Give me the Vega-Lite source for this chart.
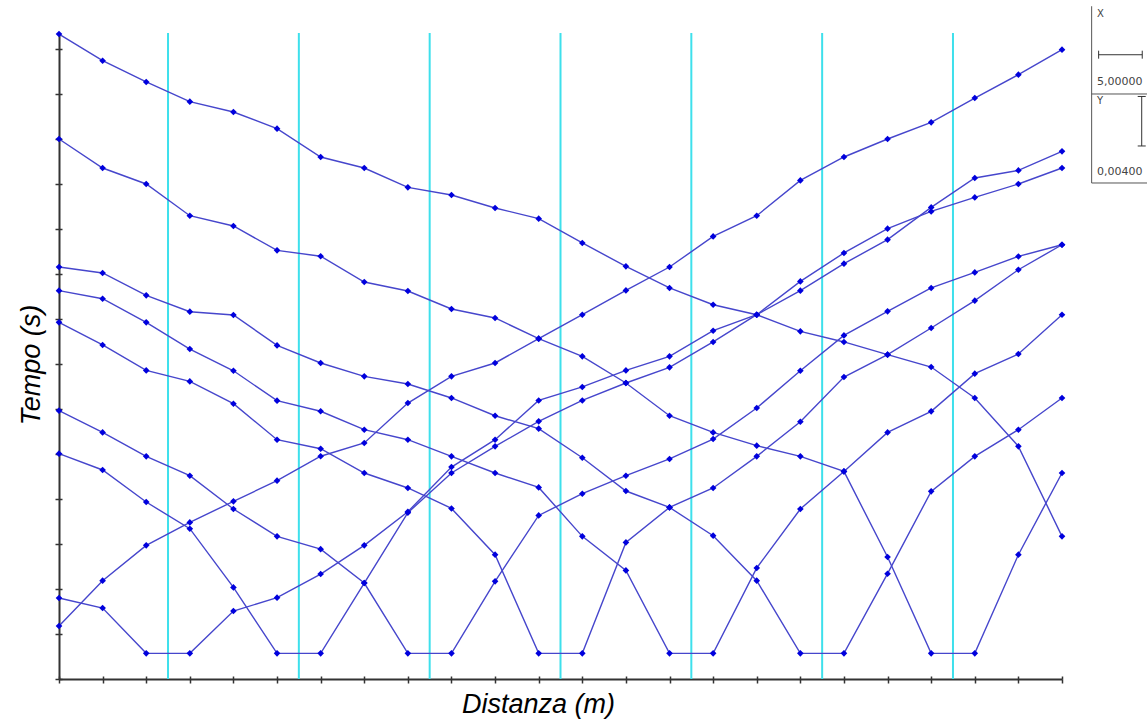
{
  "$schema": "https://vega.github.io/schema/vega-lite/v6.json",
  "width": 1003,
  "height": 646,
  "autosize": {"type": "none"},
  "padding": {"left": 59, "top": 33, "right": 85, "bottom": 47},
  "background": "white",
  "config": {"view": {"stroke": null}},
  "resolve": {"axis": {"x": "independent", "y": "independent"}},
  "datasets": {
    "picks": [
      {"s":"A","d":0,"t":0.05733},{"s":"A","d":5,"t":0.05496},{"s":"A","d":10,"t":0.05307},{"s":"A","d":15,"t":0.05132},{"s":"A","d":20,"t":0.05040},{"s":"A","d":25,"t":0.04892},{"s":"A","d":30,"t":0.04640},{"s":"A","d":35,"t":0.04542},{"s":"A","d":40,"t":0.04370},{"s":"A","d":45,"t":0.04302},{"s":"A","d":50,"t":0.04187},{"s":"A","d":55,"t":0.04092},{"s":"A","d":60,"t":0.03876},{"s":"A","d":65,"t":0.03668},{"s":"A","d":70,"t":0.03476},{"s":"A","d":75,"t":0.03327},{"s":"A","d":80,"t":0.03238},{"s":"A","d":85,"t":0.03090},{"s":"A","d":90,"t":0.02996},{"s":"A","d":95,"t":0.02883},{"s":"A","d":100,"t":0.02773},{"s":"A","d":105,"t":0.02498},{"s":"A","d":110,"t":0.02068},{"s":"A","d":115,"t":0.01268},
      {"s":"B","d":0,"t":0.04800},{"s":"B","d":5,"t":0.04542},{"s":"B","d":10,"t":0.04400},{"s":"B","d":15,"t":0.04118},{"s":"B","d":20,"t":0.04027},{"s":"B","d":25,"t":0.03810},{"s":"B","d":30,"t":0.03758},{"s":"B","d":35,"t":0.03529},{"s":"B","d":40,"t":0.03449},{"s":"B","d":45,"t":0.03289},{"s":"B","d":50,"t":0.03209},{"s":"B","d":55,"t":0.03025},{"s":"B","d":60,"t":0.02868},{"s":"B","d":65,"t":0.02631},{"s":"B","d":70,"t":0.02340},{"s":"B","d":75,"t":0.02192},{"s":"B","d":80,"t":0.02074},{"s":"B","d":85,"t":0.01979},{"s":"B","d":90,"t":0.01845},{"s":"B","d":95,"t":0.01084},{"s":"B","d":100,"t":0.00228},{"s":"B","d":105,"t":0.00228},{"s":"B","d":110,"t":0.01105},{"s":"B","d":115,"t":0.01831},
      {"s":"C","d":0,"t":0.03662},{"s":"C","d":5,"t":0.03609},{"s":"C","d":10,"t":0.03410},{"s":"C","d":15,"t":0.03265},{"s":"C","d":20,"t":0.03236},{"s":"C","d":25,"t":0.02965},{"s":"C","d":30,"t":0.02809},{"s":"C","d":35,"t":0.02690},{"s":"C","d":40,"t":0.02622},{"s":"C","d":45,"t":0.02498},{"s":"C","d":50,"t":0.02340},{"s":"C","d":55,"t":0.02225},{"s":"C","d":60,"t":0.01967},{"s":"C","d":65,"t":0.01671},{"s":"C","d":70,"t":0.01525},{"s":"C","d":75,"t":0.01274},{"s":"C","d":80,"t":0.00874},{"s":"C","d":85,"t":0.00228},{"s":"C","d":90,"t":0.00228},{"s":"C","d":95,"t":0.00936},{"s":"C","d":100,"t":0.01668},{"s":"C","d":105,"t":0.01979},{"s":"C","d":110,"t":0.02216},{"s":"C","d":115,"t":0.02498},
      {"s":"D","d":0,"t":0.03452},{"s":"D","d":5,"t":0.03380},{"s":"D","d":10,"t":0.03170},{"s":"D","d":15,"t":0.02933},{"s":"D","d":20,"t":0.02740},{"s":"D","d":25,"t":0.02474},{"s":"D","d":30,"t":0.02380},{"s":"D","d":35,"t":0.02216},{"s":"D","d":40,"t":0.02127},{"s":"D","d":45,"t":0.01979},{"s":"D","d":50,"t":0.01831},{"s":"D","d":55,"t":0.01703},{"s":"D","d":60,"t":0.01268},{"s":"D","d":65,"t":0.00965},{"s":"D","d":70,"t":0.00228},{"s":"D","d":75,"t":0.00228},{"s":"D","d":80,"t":0.00987},{"s":"D","d":85,"t":0.01511},{"s":"D","d":90,"t":0.01845},{"s":"D","d":95,"t":0.02192},{"s":"D","d":100,"t":0.02379},{"s":"D","d":105,"t":0.02714},{"s":"D","d":110,"t":0.02889},{"s":"D","d":115,"t":0.03238},
      {"s":"E","d":0,"t":0.03170},{"s":"E","d":5,"t":0.02969},{"s":"E","d":10,"t":0.02743},{"s":"E","d":15,"t":0.02645},{"s":"E","d":20,"t":0.02447},{"s":"E","d":25,"t":0.02127},{"s":"E","d":30,"t":0.02047},{"s":"E","d":35,"t":0.01831},{"s":"E","d":40,"t":0.01698},{"s":"E","d":45,"t":0.01516},{"s":"E","d":50,"t":0.01105},{"s":"E","d":55,"t":0.00228},{"s":"E","d":60,"t":0.00228},{"s":"E","d":65,"t":0.01214},{"s":"E","d":70,"t":0.01525},{"s":"E","d":75,"t":0.01698},{"s":"E","d":80,"t":0.01979},{"s":"E","d":85,"t":0.02287},{"s":"E","d":90,"t":0.02684},{"s":"E","d":95,"t":0.02883},{"s":"E","d":100,"t":0.03120},{"s":"E","d":105,"t":0.03363},{"s":"E","d":110,"t":0.03638},{"s":"E","d":115,"t":0.03860},
      {"s":"F","d":0,"t":0.02385},{"s":"F","d":5,"t":0.02192},{"s":"F","d":10,"t":0.01979},{"s":"F","d":15,"t":0.01807},{"s":"F","d":20,"t":0.01511},{"s":"F","d":25,"t":0.01268},{"s":"F","d":30,"t":0.01154},{"s":"F","d":35,"t":0.00853},{"s":"F","d":40,"t":0.00228},{"s":"F","d":45,"t":0.00228},{"s":"F","d":50,"t":0.00868},{"s":"F","d":55,"t":0.01454},{"s":"F","d":60,"t":0.01647},{"s":"F","d":65,"t":0.01807},{"s":"F","d":70,"t":0.01956},{"s":"F","d":75,"t":0.02133},{"s":"F","d":80,"t":0.02409},{"s":"F","d":85,"t":0.02740},{"s":"F","d":90,"t":0.03054},{"s":"F","d":95,"t":0.03268},{"s":"F","d":100,"t":0.03476},{"s":"F","d":105,"t":0.03614},{"s":"F","d":110,"t":0.03756},{"s":"F","d":115,"t":0.03860},
      {"s":"G","d":0,"t":0.02003},{"s":"G","d":5,"t":0.01858},{"s":"G","d":10,"t":0.01573},{"s":"G","d":15,"t":0.01336},{"s":"G","d":20,"t":0.00814},{"s":"G","d":25,"t":0.00228},{"s":"G","d":30,"t":0.00228},{"s":"G","d":35,"t":0.00853},{"s":"G","d":40,"t":0.01478},{"s":"G","d":45,"t":0.01831},{"s":"G","d":50,"t":0.02068},{"s":"G","d":55,"t":0.02290},{"s":"G","d":60,"t":0.02476},{"s":"G","d":65,"t":0.02631},{"s":"G","d":70,"t":0.02770},{"s":"G","d":75,"t":0.02996},{"s":"G","d":80,"t":0.03238},{"s":"G","d":85,"t":0.03452},{"s":"G","d":90,"t":0.03692},{"s":"G","d":95,"t":0.03905},{"s":"G","d":100,"t":0.04192},{"s":"G","d":105,"t":0.04453},{"s":"G","d":110,"t":0.04521},{"s":"G","d":115,"t":0.04690},
      {"s":"H","d":0,"t":0.00720},{"s":"H","d":5,"t":0.00631},{"s":"H","d":10,"t":0.00228},{"s":"H","d":15,"t":0.00228},{"s":"H","d":20,"t":0.00604},{"s":"H","d":25,"t":0.00723},{"s":"H","d":30,"t":0.00933},{"s":"H","d":35,"t":0.01188},{"s":"H","d":40,"t":0.01487},{"s":"H","d":45,"t":0.01884},{"s":"H","d":50,"t":0.02127},{"s":"H","d":55,"t":0.02476},{"s":"H","d":60,"t":0.02596},{"s":"H","d":65,"t":0.02743},{"s":"H","d":70,"t":0.02868},{"s":"H","d":75,"t":0.03096},{"s":"H","d":80,"t":0.03238},{"s":"H","d":85,"t":0.03534},{"s":"H","d":90,"t":0.03787},{"s":"H","d":95,"t":0.04003},{"s":"H","d":100,"t":0.04156},{"s":"H","d":105,"t":0.04281},{"s":"H","d":110,"t":0.04400},{"s":"H","d":115,"t":0.04542},
      {"s":"I","d":0,"t":0.00471},{"s":"I","d":5,"t":0.00874},{"s":"I","d":10,"t":0.01188},{"s":"I","d":15,"t":0.01392},{"s":"I","d":20,"t":0.01579},{"s":"I","d":25,"t":0.01763},{"s":"I","d":30,"t":0.01980},{"s":"I","d":35,"t":0.02098},{"s":"I","d":40,"t":0.02453},{"s":"I","d":45,"t":0.02690},{"s":"I","d":50,"t":0.02809},{"s":"I","d":55,"t":0.03025},{"s":"I","d":60,"t":0.03238},{"s":"I","d":65,"t":0.03454},{"s":"I","d":70,"t":0.03662},{"s":"I","d":75,"t":0.03934},{"s":"I","d":80,"t":0.04118},{"s":"I","d":85,"t":0.04432},{"s":"I","d":90,"t":0.04640},{"s":"I","d":95,"t":0.04800},{"s":"I","d":100,"t":0.04948},{"s":"I","d":105,"t":0.05164},{"s":"I","d":110,"t":0.05372},{"s":"I","d":115,"t":0.05594}
    ],
    "shots": [{"d":12.5},{"d":27.5},{"d":42.5},{"d":57.5},{"d":72.5},{"d":87.5},{"d":102.5}]
  },
  "layer": [
    {
      "data": {"name": "shots"},
      "mark": {"type": "rule", "color": "#3ee0ec", "strokeWidth": 2},
      "encoding": {
        "x": {"field": "d", "type": "quantitative", "scale": {"domain": [0, 115], "nice": false, "zero": false}, "axis": null}
      }
    },
    {
      "data": {"name": "picks"},
      "mark": {"type": "line", "color": "#4646cc", "strokeWidth": 1.4},
      "encoding": {
        "x": {"field": "d", "type": "quantitative",
          "scale": {"domain": [0, 115], "nice": false, "zero": false},
          "axis": {"values": [0,5,10,15,20,25,30,35,40,45,50,55,60,65,70,75,80,85,90,95,100,105,110,115],
            "labels": false, "grid": false, "domainColor": "#333333", "domainWidth": 2, "tickColor": "#333333", "tickWidth": 1.5, "tickSize": 4,
            "title": "Distanza (m)", "titleFont": "Liberation Sans", "titleFontSize": 27, "titleFontStyle": "italic", "titleFontWeight": "normal", "titleColor": "#000000",
            "titleX": 479, "titleY": 33, "titleBaseline": "alphabetic", "titleAlign": "center"}},
        "y": {"field": "t", "type": "quantitative",
          "scale": {"domain": [0, 0.057422], "nice": false, "zero": false},
          "axis": {"values": [0,0.004,0.008,0.012,0.016,0.02,0.024,0.028,0.032,0.036,0.04,0.044,0.048,0.052,0.056],
            "labels": false, "grid": false, "domainColor": "#333333", "domainWidth": 2, "tickColor": "#333333", "tickWidth": 1.5, "tickSize": 4,
            "title": "Tempo (s)", "titleFont": "Liberation Sans", "titleFontSize": 27, "titleFontStyle": "italic", "titleFontWeight": "normal", "titleColor": "#000000",
            "titleX": -19.5, "titleY": 331.5, "titleBaseline": "alphabetic", "titleAlign": "center", "titleAngle": -90}},
        "detail": {"field": "s", "type": "nominal"},
        "order": {"field": "d", "type": "quantitative"}
      }
    },
    {
      "data": {"name": "picks"},
      "mark": {"type": "point", "shape": "diamond", "filled": true, "size": 44, "color": "#0000dd", "opacity": 1},
      "encoding": {
        "x": {"field": "d", "type": "quantitative",
          "axis": {"orient": "bottom", "values": [0,5,10,15,20,25,30,35,40,45,50,55,60,65,70,75,80,85,90,95,100,105,110,115],
            "domain": false, "labels": false, "grid": false, "tickColor": "#333333", "tickWidth": 1.5, "tickSize": -3, "title": null}},
        "y": {"field": "t", "type": "quantitative",
          "axis": {"orient": "left", "values": [0,0.004,0.008,0.012,0.016,0.02,0.024,0.028,0.032,0.036,0.04,0.044,0.048,0.052,0.056],
            "domain": false, "labels": false, "grid": false, "tickColor": "#333333", "tickWidth": 1.5, "tickSize": -3, "title": null}}
      }
    },
    {
      "data": {"values": [{}]},
      "mark": {"type": "rule", "color": "#555555", "strokeWidth": 1},
      "encoding": {"x": {"datum": 118.4, "type": "quantitative", "axis": null}, "y": {"datum": 0.04409, "type": "quantitative", "axis": null}, "y2": {"datum": 0.0598}}
    },
    {
      "data": {"values": [{}]},
      "mark": {"type": "rule", "color": "#555555", "strokeWidth": 1},
      "encoding": {"x": {"datum": 118.4, "type": "quantitative", "axis": null}, "x2": {"datum": 126}, "y": {"datum": 0.0520, "type": "quantitative", "axis": null}}
    },
    {
      "data": {"values": [{}]},
      "mark": {"type": "rule", "color": "#555555", "strokeWidth": 1},
      "encoding": {"x": {"datum": 118.4, "type": "quantitative", "axis": null}, "x2": {"datum": 126}, "y": {"datum": 0.04409, "type": "quantitative", "axis": null}}
    },
    {
      "data": {"values": [{}]},
      "mark": {"type": "rule", "color": "#333333", "strokeWidth": 1},
      "encoding": {"x": {"datum": 119.2, "type": "quantitative", "axis": null}, "x2": {"datum": 124.2}, "y": {"datum": 0.05549, "type": "quantitative", "axis": null}}
    },
    {
      "data": {"values": [{}]},
      "mark": {"type": "rule", "color": "#333333", "strokeWidth": 1},
      "encoding": {"x": {"datum": 119.2, "type": "quantitative", "axis": null}, "y": {"datum": 0.05514, "type": "quantitative", "axis": null}, "y2": {"datum": 0.05585}}
    },
    {
      "data": {"values": [{}]},
      "mark": {"type": "rule", "color": "#333333", "strokeWidth": 1},
      "encoding": {"x": {"datum": 124.2, "type": "quantitative", "axis": null}, "y": {"datum": 0.05514, "type": "quantitative", "axis": null}, "y2": {"datum": 0.05585}}
    },
    {
      "data": {"values": [{}]},
      "mark": {"type": "rule", "color": "#333333", "strokeWidth": 1},
      "encoding": {"x": {"datum": 124.14, "type": "quantitative", "axis": null}, "y": {"datum": 0.04738, "type": "quantitative", "axis": null}, "y2": {"datum": 0.05178}}
    },
    {
      "data": {"values": [{}]},
      "mark": {"type": "rule", "color": "#333333", "strokeWidth": 1},
      "encoding": {"x": {"datum": 123.68, "type": "quantitative", "axis": null}, "x2": {"datum": 124.6}, "y": {"datum": 0.04738, "type": "quantitative", "axis": null}}
    },
    {
      "data": {"values": [{}]},
      "mark": {"type": "rule", "color": "#333333", "strokeWidth": 1},
      "encoding": {"x": {"datum": 123.68, "type": "quantitative", "axis": null}, "x2": {"datum": 124.6}, "y": {"datum": 0.05178, "type": "quantitative", "axis": null}}
    },
    {
      "data": {"values": [{"label": "X"}]},
      "mark": {"type": "text", "align": "left", "baseline": "middle", "font": "DejaVu Sans", "fontSize": 10, "color": "#444444"},
      "encoding": {"x": {"datum": 119.0, "type": "quantitative", "axis": null}, "y": {"datum": 0.05914, "type": "quantitative", "axis": null}, "text": {"field": "label"}}
    },
    {
      "data": {"values": [{"label": "5,00000"}]},
      "mark": {"type": "text", "align": "left", "baseline": "middle", "font": "DejaVu Sans", "fontSize": 11, "color": "#444444"},
      "encoding": {"x": {"datum": 119.0, "type": "quantitative", "axis": null}, "y": {"datum": 0.05309, "type": "quantitative", "axis": null}, "text": {"field": "label"}}
    },
    {
      "data": {"values": [{"label": "Y"}]},
      "mark": {"type": "text", "align": "left", "baseline": "middle", "font": "DejaVu Sans", "fontSize": 10, "color": "#444444"},
      "encoding": {"x": {"datum": 119.0, "type": "quantitative", "axis": null}, "y": {"datum": 0.05140, "type": "quantitative", "axis": null}, "text": {"field": "label"}}
    },
    {
      "data": {"values": [{"label": "0,00400"}]},
      "mark": {"type": "text", "align": "left", "baseline": "middle", "font": "DejaVu Sans", "fontSize": 11, "color": "#444444"},
      "encoding": {"x": {"datum": 119.0, "type": "quantitative", "axis": null}, "y": {"datum": 0.04509, "type": "quantitative", "axis": null}, "text": {"field": "label"}}
    }
  ]
}
